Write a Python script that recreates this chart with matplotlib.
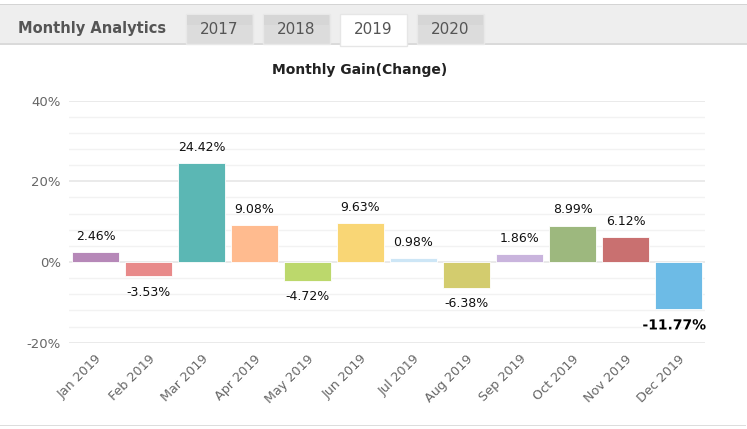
import numpy as np
import matplotlib
matplotlib.use("Agg")
import matplotlib.pyplot as plt
import matplotlib.patheffects as pe
from matplotlib.patches import Rectangle

months = ["Jan 2019", "Feb 2019", "Mar 2019", "Apr 2019", "May 2019", "Jun 2019",
          "Jul 2019", "Aug 2019", "Sep 2019", "Oct 2019", "Nov 2019", "Dec 2019"]
gains = [2.46, -3.53, 24.42, 9.08, -4.72, 9.63, 0.98, -6.38, 1.86, 8.99, 6.12, -11.77]
colors = ["#b688b8", "#e88a8a", "#5bb7b4", "#ffbb8f", "#bcd86c", "#f9d675",
          "#cde6f6", "#d3cc6e", "#c9b4dd", "#9db87e", "#c97070", "#6dbbe6"]
tabs = ["2017", "2018", "2019", "2020"]
active_tab = "2019"

W, H = 747, 429
fig = plt.figure(figsize=(W / 100, H / 100), dpi=100)
fig.patch.set_facecolor("white")

def box(x, y, w, h, fc, ec="none", lw=0, z=1):
    # pixel box, top-left origin
    fig.patches.append(Rectangle((x / W, 1 - (y + h) / H), w / W, h / H,
                                 transform=fig.transFigure, facecolor=fc,
                                 edgecolor=ec, lw=lw, zorder=z))

# header band
box(0, 4, W, 41, "#eeeeee", z=0)
box(0, 4, W, 1, "#d4d4d4")
box(0, 43, W, 2, "#dadada")
fig.text(18 / W, 1 - 29 / H, "Monthly Analytics", fontsize=10.5, fontweight="bold",
         color="#555555", ha="left", va="center")

tab_x = [186, 263, 340, 417]
for tx, t in zip(tab_x, tabs):
    if t == active_tab:
        box(tx, 14, 67, 32, "white", "#e6e6e6", 1, 2)
    else:
        box(tx, 14, 67, 30, "#dcdcdc", "#e8e8e8", 1, 2)
        box(tx + 1, 15, 65, 10, "#d6d6d6", z=3)
    fig.text((tx + 33.5) / W, 1 - 30 / H, t, fontsize=11, color="#555555",
             ha="center", va="center", zorder=4)

# bottom border
box(0, 425, W - 1, 1, "#dddddd")

fig.text(360 / W, 1 - 70 / H, "Monthly Gain(Change)", fontsize=10, fontweight="bold",
         color="#222222", ha="center", va="center")

ax = fig.add_axes([69 / W, 1 - 342.7 / H, 636 / W, 242.2 / H])
x = np.arange(len(months))
ax.bar(x, gains, width=0.87, color=colors, edgecolor="white", linewidth=0.6, zorder=3)

ax.set_xlim(-0.5, len(months) - 0.5)
ax.set_ylim(-20, 40)
ax.set_yticks([-20, 0, 20, 40])
ax.set_yticklabels(["-20%", "0%", "20%", "40%"])
ax.set_yticks(np.arange(-20, 41, 4), minor=True)
ax.grid(axis="y", which="major", color="#e6e6e6", lw=1.2, zorder=0)
ax.grid(axis="y", which="minor", color="#f2f2f2", lw=1, zorder=0)
ax.tick_params(axis="y", which="both", length=0, pad=6, labelcolor="#666666", labelsize=9.5)
ax.tick_params(axis="x", length=0, pad=7, labelcolor="#666666", labelsize=9.2)
ax.set_xticks(x)
ax.set_xticklabels(months, rotation=45, ha="right", rotation_mode="anchor")
for s in ax.spines.values():
    s.set_visible(False)

for i, v in enumerate(gains):
    lbl = "%.2f%%" % v
    if i == len(gains) - 1:
        ax.annotate(lbl, (i, v), xytext=(-3, -11.5), textcoords="offset points",
                    ha="center", va="center", fontsize=10, fontweight="bold",
                    color="black",
                    path_effects=[pe.withStroke(linewidth=2, foreground="white")])
        continue
    off = 11.5 if v >= 0 else -11.5
    ax.annotate(lbl, (i, v), xytext=(0, off), textcoords="offset points",
                ha="center", va="center", fontsize=9, color="#111111")

fig.savefig("out.png", dpi=100)
